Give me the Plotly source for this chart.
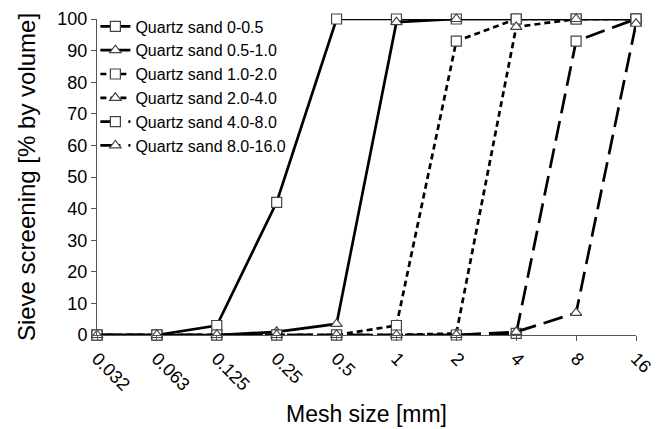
import plotly.graph_objects as go

mesh = ["0.032", "0.063", "0.125", "0.25", "0.5", "1", "2", "4", "8", "16"]
names = ["Quartz sand 0-0.5", "Quartz sand 0.5-1.0", "Quartz sand 1.0-2.0",
         "Quartz sand 2.0-4.0", "Quartz sand 4.0-8.0", "Quartz sand 8.0-16.0"]
s1 = [0, 0, 3, 42, 100, 100, 100, 100, 100, 100]
s2 = [0, 0, 0, 1, 3.5, 99, 100, 100, 100, 100]
s3 = [0, 0, 0, 0, 0, 3, 93, 100, 100, 100]
s4 = [0, 0, 0, 0, 0, 0, 0.5, 97.5, 100, 100]
s5 = [0, 0, 0, 0, 0, 0, 0, 0.5, 93, 100]
s6 = [0, 0, 0, 0, 0, 0, 0, 1, 7, 98.5]
series = [s1, s2, s3, s4, s5, s6]
symbols = ["square", "triangle-up", "square", "triangle-up", "square", "triangle-up"]
dashes = ["solid", "solid", "6px,4px", "6px,4px", "20px,8px", "20px,8px"]

fig = go.Figure()
for name, ys, sym, dash in zip(names, series, symbols, dashes):
    fig.add_trace(go.Scatter(
        x=mesh, y=ys, name=name, mode="lines+markers",
        line=dict(color="black", width=2.7, dash=dash),
        marker=dict(symbol=sym, size=10, color="white",
                    line=dict(color="#444", width=1.2)),
        cliponaxis=False,
    ))

fig.update_layout(
    width=665, height=429,
    margin=dict(l=97, r=29, t=19, b=94, autoexpand=False),
    paper_bgcolor="white", plot_bgcolor="white",
    font=dict(family="Liberation Sans, Arial, sans-serif", size=18, color="black"),
    showlegend=True,
    legend=dict(x=-0.003, y=1.03, xanchor="left", yanchor="top",
                bgcolor="rgba(0,0,0,0)", font=dict(size=16),
                itemwidth=30, tracegroupgap=0),
)
fig.update_xaxes(
    type="category", range=[0, 9], showline=True, linecolor="#555", linewidth=1,
    ticks="outside", ticklen=5, tickcolor="#555", tickangle=45, showgrid=False,
    zeroline=False, tickfont=dict(size=18),
    title=dict(text="Mesh size [mm]", font=dict(size=23), standoff=12),
)
fig.update_yaxes(
    range=[0, 100], dtick=10, showline=True, linecolor="#555", linewidth=1,
    ticks="outside", ticklen=5, tickcolor="#555", showgrid=False, zeroline=False,
    tickfont=dict(size=18),
    title=dict(text="Sieve screening [% by volume]", font=dict(size=24), standoff=14),
)

fig.write_html("out.html", config={"displayModeBar": False},
               post_script="document.body.style.margin='0';")
